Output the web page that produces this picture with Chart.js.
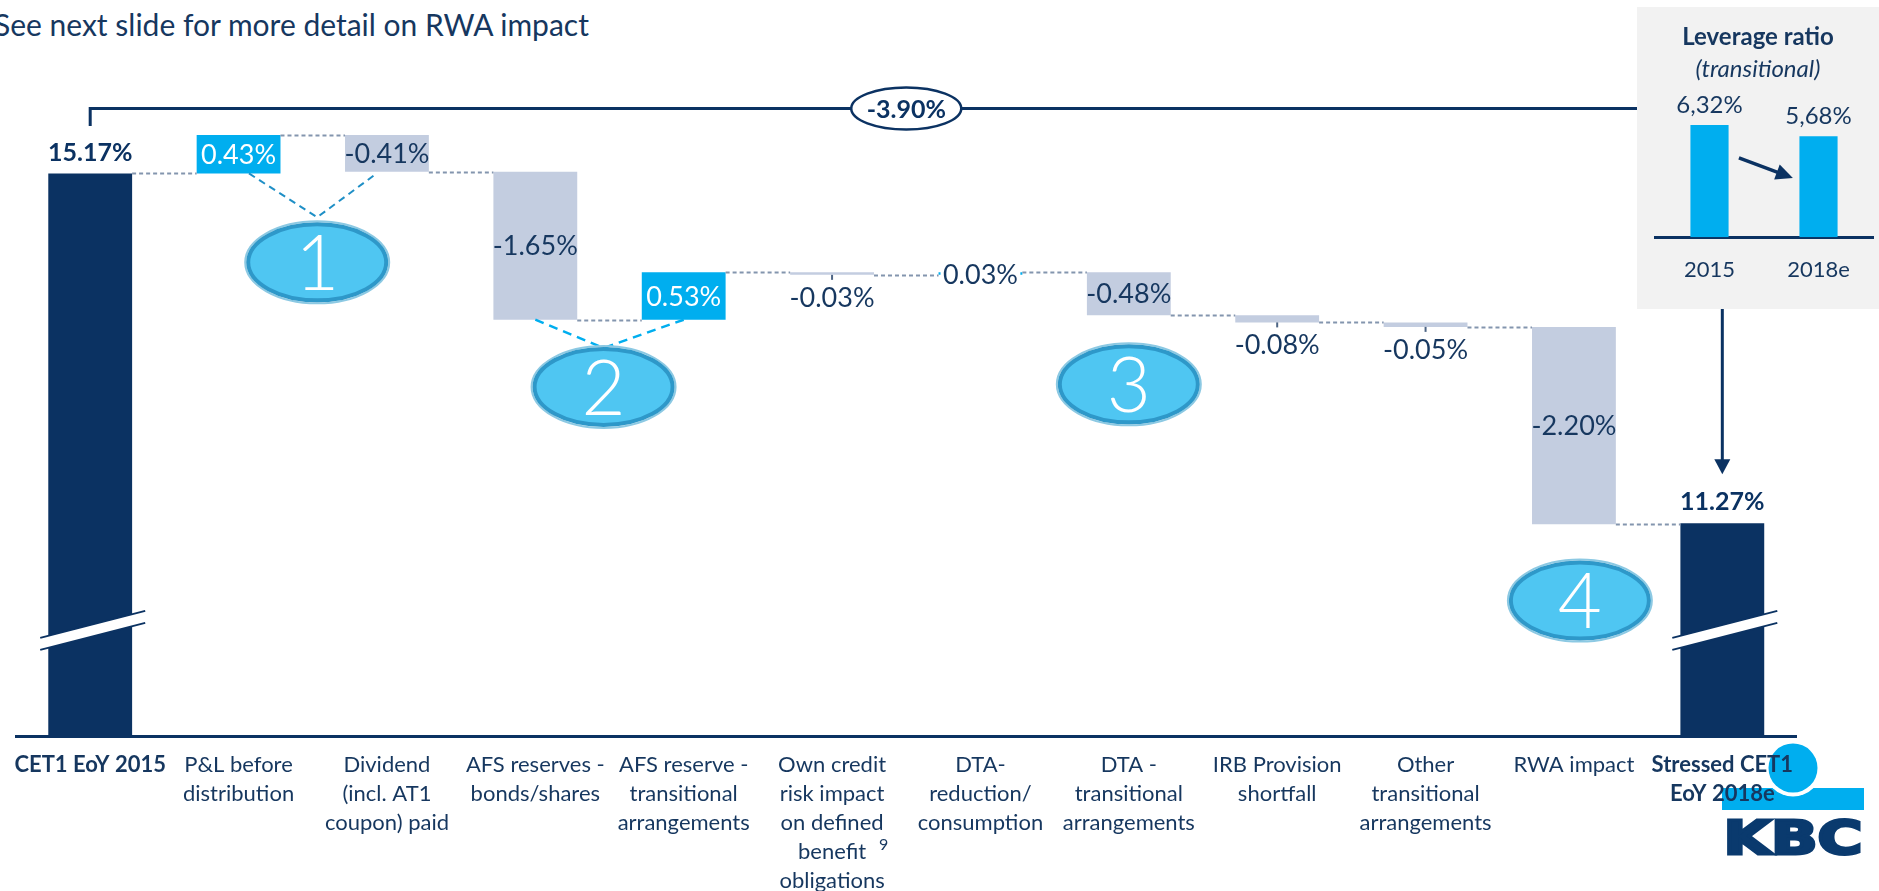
<!DOCTYPE html>
<html>
<head>
<meta charset="utf-8">
<title>CET1 waterfall 2015 - 2018e</title>
<script src="https://cdn.jsdelivr.net/npm/chart.js@4.4.1/dist/chart.umd.min.js"></script>
<style>
  html, body { margin: 0; padding: 0; background: #fff; overflow: hidden; }
  body { width: 1879px; height: 891px; position: relative; font-family: Lato, "Open Sans", sans-serif; color: #16375f; }
  #waterfall { position: absolute; left: 0; top: 0; }
  .note { position: absolute; left: -6px; top: 9px; font-size: 30px; line-height: 30px; white-space: nowrap; }
  .lev-box { position: absolute; left: 1637px; top: 7px; width: 242px; height: 302px; background: #f2f2f2; }
  #leverage { position: absolute; left: 1637px; top: 7px; }
  .lev-title { position: absolute; left: 1637px; width: 242px; text-align: center; font-size: 24px; line-height: 24px; white-space: nowrap; }
</style>
</head>
<body>
<div class="note">See next slide for more detail on RWA impact</div>
<canvas id="waterfall" width="1879" height="891"></canvas>
<div class="lev-box"></div>
<canvas id="leverage" width="242" height="302"></canvas>
<div class="lev-title" style="top:24px;font-weight:bold;">Leverage ratio</div>
<div class="lev-title" style="top:56px;font-style:italic;">(transitional)</div>
<script>
// colours
const NAVY = '#0b3262';
const TEXT = '#16375f';
const CYAN = '#00aeef';
const GREY = '#c3cde0';
const DASH_GREY = '#8395ae';

// waterfall data
const categories = [
  ['CET1 EoY 2015'],
  ['P&L before', 'distribution'],
  ['Dividend', '(incl. AT1', 'coupon) paid'],
  ['AFS reserves -', 'bonds/shares'],
  ['AFS reserve -', 'transitional', 'arrangements'],
  ['Own credit', 'risk impact', 'on defined', 'benefit', 'obligations'],
  ['DTA-', 'reduction/', 'consumption'],
  ['DTA -', 'transitional', 'arrangements'],
  ['IRB Provision', 'shortfall'],
  ['Other', 'transitional', 'arrangements'],
  ['RWA impact'],
  ['Stressed CET1', 'EoY 2018e']
];
const startValue = 15.17;
const deltas = [0.43, -0.41, -1.65, 0.53, -0.03, 0.03, -0.48, -0.08, -0.05, -2.20];
const endValue = 11.27;
const totalChange = -3.90;
const axisFloor = 8.9;   // broken axis: bars start here
const axisCeil = 16.0;

// leverage ratio inset
const leverageYears = ['2015', '2018e'];
const leverageValues = [6.32, 5.68];

// build floating bars for the waterfall
const ranges = [[axisFloor, startValue]];
const levels = [startValue];
let run = startValue;
deltas.forEach(d => {
  const next = +(run + d).toFixed(2);
  ranges.push([Math.min(run, next), Math.max(run, next)]);
  run = next;
  levels.push(run);
});
ranges.push([axisFloor, endValue]);
levels.push(endValue);

const lastIdx = categories.length - 1;
const barColors = ranges.map((r, i) => {
  if (i === 0 || i === lastIdx) return NAVY;
  return deltas[i - 1] > 0 ? CYAN : GREY;
});

function valueText(i) {
  if (i === 0) return startValue.toFixed(2) + '%';
  if (i === lastIdx) return endValue.toFixed(2) + '%';
  return deltas[i - 1].toFixed(2) + '%';
}

Chart.defaults.font.family = 'Lato, "Open Sans", sans-serif';

function barBox(chart, i) {
  const el = chart.getDatasetMeta(0).data[i];
  const p = el.getProps(['x', 'y', 'base', 'width'], true);
  return {
    x: p.x, left: p.x - p.width / 2, right: p.x + p.width / 2,
    top: Math.min(p.y, p.base), bottom: Math.max(p.y, p.base), width: p.width
  };
}

function drawEllipseMark(ctx, cx, cy, txt) {
  ctx.save();
  ctx.beginPath();
  ctx.ellipse(cx, cy, 72, 41, 0, 0, Math.PI * 2);
  ctx.strokeStyle = '#8cc9e3';
  ctx.lineWidth = 2;
  ctx.stroke();
  ctx.beginPath();
  ctx.ellipse(cx, cy, 69, 38, 0, 0, Math.PI * 2);
  ctx.fillStyle = '#4fc6f2';
  ctx.fill();
  ctx.strokeStyle = '#2e98c9';
  ctx.lineWidth = 4;
  ctx.stroke();
  ctx.fillStyle = '#fff';
  ctx.font = '300 76px Lato';
  ctx.textAlign = 'center';
  ctx.textBaseline = 'middle';
  ctx.fillText(txt, cx, cy + 3);
  ctx.restore();
}

function drawBreak(ctx, b, yc) {
  const slope = 27 / 105;
  const x1 = b.x - 50, x2 = b.x + 55;
  const yAt = (x, off) => yc - (x - b.x) * slope + off;
  ctx.save();
  ctx.beginPath();
  ctx.moveTo(x1, yAt(x1, -6));
  ctx.lineTo(x2, yAt(x2, -6));
  ctx.lineTo(x2, yAt(x2, 6));
  ctx.lineTo(x1, yAt(x1, 6));
  ctx.closePath();
  ctx.fillStyle = '#fff';
  ctx.fill();
  ctx.strokeStyle = NAVY;
  ctx.lineWidth = 2;
  [-6, 6].forEach(off => {
    ctx.beginPath();
    ctx.moveTo(x1, yAt(x1, off));
    ctx.lineTo(x2, yAt(x2, off));
    ctx.stroke();
  });
  ctx.restore();
}

const BOX_LEFT = 1637, BOX_BOTTOM = 309;

const waterfallDecor = {
  id: 'waterfallDecor',
  beforeDraw(chart) {
    // KBC logo, sits under the last category label
    const ctx = chart.ctx;
    ctx.save();
    ctx.fillStyle = CYAN;
    ctx.fillRect(1722, 788, 142, 22);
    ctx.beginPath();
    ctx.arc(1793, 768, 28.5, 0, Math.PI * 2);
    ctx.fillStyle = '#fff';
    ctx.fill();
    ctx.beginPath();
    ctx.arc(1793, 768, 24.5, 0, Math.PI * 2);
    ctx.fillStyle = CYAN;
    ctx.fill();
    ctx.font = 'bold 46px "DejaVu Sans"';
    const w = ctx.measureText('KBC').width;
    ctx.translate(1723.5, 854);
    ctx.scale(139 / w, 1);
    ctx.fillStyle = '#0a3a6e';
    ctx.strokeStyle = '#0a3a6e';
    ctx.lineWidth = 3;
    ctx.lineJoin = 'miter';
    ctx.textBaseline = 'alphabetic';
    ctx.fillText('KBC', 0, 0);
    ctx.strokeText('KBC', 0, 0);
    ctx.restore();
  },
  afterDatasetsDraw(chart) {
    const ctx = chart.ctx;
    const xs = chart.scales.x, ys = chart.scales.y;
    const boxes = ranges.map((r, i) => barBox(chart, i));

    // dashed connectors between bars
    ctx.save();
    ctx.strokeStyle = DASH_GREY;
    ctx.lineWidth = 2;
    ctx.setLineDash([4, 3]);
    for (let i = 0; i < boxes.length - 1; i++) {
      const y = Math.round(ys.getPixelForValue(levels[i])) + 0.5;
      ctx.beginPath();
      ctx.moveTo(boxes[i].right, y);
      ctx.lineTo(boxes[i + 1].left, y);
      ctx.stroke();
    }
    ctx.restore();

    // axis breaks on the two totals
    const yBreak = ys.getPixelForValue(10.07);
    drawBreak(ctx, boxes[0], yBreak);
    drawBreak(ctx, boxes[lastIdx], yBreak);

    // value labels
    ctx.save();
    ctx.textAlign = 'center';
    ctx.textBaseline = 'middle';
    boxes.forEach((b, i) => {
      const txt = valueText(i);
      if (i === 0 || i === lastIdx) {
        ctx.font = 'bold 25px Lato';
        ctx.fillStyle = NAVY;
        ctx.fillText(txt, b.x, b.top - 21);
        return;
      }
      const d = deltas[i - 1];
      ctx.font = '27px Lato';
      if (Math.abs(d) >= 0.3) {
        ctx.fillStyle = d > 0 ? '#fff' : TEXT;
        ctx.fillText(txt, b.x, (b.top + b.bottom) / 2 + 1);
      } else if (d < 0) {
        ctx.strokeStyle = '#4d6585';
        ctx.lineWidth = 2;
        ctx.beginPath();
        ctx.moveTo(b.x, b.bottom);
        ctx.lineTo(b.x, b.bottom + 5);
        ctx.stroke();
        ctx.fillStyle = TEXT;
        ctx.fillText(txt, b.x, b.bottom + 23);
      } else {
        const yc = (b.top + b.bottom) / 2;
        ctx.fillStyle = '#fff';
        ctx.fillRect(b.left + 2, yc - 14, b.width - 4, 30);
        ctx.fillStyle = TEXT;
        ctx.fillText(txt, b.x, yc + 2);
      }
    });
    ctx.restore();

    // numbered groups
    const marks = [
      { t: '1', at: 1.53, v: 14.18 },
      { t: '2', at: 3.46, v: 12.79 },
      { t: '3', at: 7.0, v: 12.82 },
      { t: '4', at: 10.04, v: 10.41 }
    ].map(m => ({ t: m.t, x: xs.getPixelForValue(m.at), y: ys.getPixelForValue(m.v) }));

    // dashed V guides to marks 1 and 2
    ctx.save();
    ctx.lineWidth = 2;
    ctx.strokeStyle = '#1f8fc6';
    ctx.setLineDash([7, 5]);
    let yb = ys.getPixelForValue(levels[0]);
    ctx.beginPath();
    ctx.moveTo(xs.getPixelForValue(1.07), yb);
    ctx.lineTo(marks[0].x, marks[0].y - 45);
    ctx.lineTo(xs.getPixelForValue(1.93), yb);
    ctx.stroke();
    ctx.strokeStyle = CYAN;
    ctx.lineWidth = 2.5;
    ctx.setLineDash([9, 6]);
    yb = ys.getPixelForValue(levels[3]);
    ctx.beginPath();
    ctx.moveTo(xs.getPixelForValue(3.0), yb);
    ctx.lineTo(marks[1].x, marks[1].y - 39);
    ctx.lineTo(xs.getPixelForValue(4.0), yb);
    ctx.stroke();
    ctx.restore();

    marks.forEach(m => drawEllipseMark(ctx, m.x, m.y, m.t));

    // total change bracket
    const xStart = xs.getPixelForValue(0);
    const yBr = ys.getPixelForValue(15.894);
    ctx.save();
    ctx.strokeStyle = NAVY;
    ctx.lineWidth = 3;
    ctx.beginPath();
    ctx.moveTo(xStart, ys.getPixelForValue(15.70));
    ctx.lineTo(xStart, yBr);
    ctx.lineTo(BOX_LEFT, yBr);
    ctx.stroke();
    const cx = xs.getPixelForValue(5.5);
    ctx.beginPath();
    ctx.ellipse(cx, yBr, 55, 21, 0, 0, Math.PI * 2);
    ctx.fillStyle = '#fff';
    ctx.fill();
    ctx.lineWidth = 2.5;
    ctx.stroke();
    ctx.font = 'bold 25px Lato';
    ctx.fillStyle = NAVY;
    ctx.textAlign = 'center';
    ctx.textBaseline = 'middle';
    ctx.fillText(totalChange.toFixed(2) + '%', cx, yBr + 1);

    // arrow from the leverage box down to the stressed total
    const xa = xs.getPixelForValue(lastIdx);
    const tip = boxes[lastIdx].top - 49;
    ctx.lineWidth = 3;
    ctx.beginPath();
    ctx.moveTo(xa, BOX_BOTTOM);
    ctx.lineTo(xa, tip - 12);
    ctx.stroke();
    ctx.beginPath();
    ctx.moveTo(xa, tip);
    ctx.lineTo(xa - 8, tip - 15);
    ctx.lineTo(xa + 8, tip - 15);
    ctx.closePath();
    ctx.fill();
    ctx.restore();
  },
  afterDraw(chart) {
    // footnote marker after "benefit"
    const ctx = chart.ctx;
    ctx.save();
    ctx.font = '16px Lato';
    ctx.fillStyle = TEXT;
    ctx.textAlign = 'left';
    ctx.textBaseline = 'middle';
    ctx.fillText('9', chart.scales.x.getPixelForValue(5) + 47, 845);
    ctx.restore();
  }
};

new Chart(document.getElementById('waterfall'), {
  type: 'bar',
  data: {
    labels: categories,
    datasets: [{
      data: ranges,
      backgroundColor: barColors,
      borderWidth: 0,
      barPercentage: 1,
      categoryPercentage: 0.565
    }]
  },
  options: {
    responsive: false,
    animation: false,
    devicePixelRatio: 1,
    layout: { padding: { left: 11, right: 82.5, top: 99, bottom: 0 } },
    plugins: { legend: { display: false }, tooltip: { enabled: false } },
    scales: {
      x: {
        grid: { display: false, drawTicks: false },
        border: { display: true, color: NAVY, width: 3 },
        ticks: {
          color: TEXT,
          padding: 14,
          autoSkip: false,
          maxRotation: 0,
          minRotation: 0,
          font: c => ({
            size: 22,
            lineHeight: 1.32,
            weight: (c.index === 0 || c.index === lastIdx) ? 'bold' : 'normal'
          })
        },
        afterFit: s => { s.height = 155; }
      },
      y: { display: false, min: axisFloor, max: axisCeil }
    }
  },
  plugins: [waterfallDecor]
});

const leverageDecor = {
  id: 'leverageDecor',
  afterDatasetsDraw(chart) {
    const ctx = chart.ctx;
    const xs = chart.scales.x, ys = chart.scales.y;
    const meta = chart.getDatasetMeta(0);
    ctx.save();
    ctx.font = '24px Lato';
    ctx.fillStyle = TEXT;
    ctx.textAlign = 'center';
    ctx.textBaseline = 'middle';
    meta.data.forEach((el, i) => {
      ctx.fillText(leverageValues[i].toFixed(2).replace('.', ',') + '%', el.x, el.y - 20);
    });
    // arrow between the two bars
    const x1 = xs.getPixelForValue(0.27), y1 = ys.getPixelForValue(4.46);
    const x2 = xs.getPixelForValue(0.765), y2 = ys.getPixelForValue(3.34);
    const ang = Math.atan2(y2 - y1, x2 - x1);
    ctx.strokeStyle = NAVY;
    ctx.fillStyle = NAVY;
    ctx.lineWidth = 3.5;
    ctx.beginPath();
    ctx.moveTo(x1, y1);
    ctx.lineTo(x2 - 14 * Math.cos(ang), y2 - 14 * Math.sin(ang));
    ctx.stroke();
    ctx.beginPath();
    ctx.moveTo(x2, y2);
    ctx.lineTo(x2 - 17 * Math.cos(ang) + 8 * Math.sin(ang), y2 - 17 * Math.sin(ang) - 8 * Math.cos(ang));
    ctx.lineTo(x2 - 17 * Math.cos(ang) - 8 * Math.sin(ang), y2 - 17 * Math.sin(ang) + 8 * Math.cos(ang));
    ctx.closePath();
    ctx.fill();
    ctx.restore();
  }
};

new Chart(document.getElementById('leverage'), {
  type: 'bar',
  data: {
    labels: leverageYears,
    datasets: [{
      data: leverageValues,
      backgroundColor: CYAN,
      borderWidth: 0,
      barPercentage: 0.35,
      categoryPercentage: 1
    }]
  },
  options: {
    responsive: false,
    animation: false,
    devicePixelRatio: 1,
    layout: { padding: { left: 18, right: 6, top: 88, bottom: 0 } },
    plugins: { legend: { display: false }, tooltip: { enabled: false } },
    scales: {
      x: {
        grid: { display: false, drawTicks: false },
        border: { display: true, color: NAVY, width: 3 },
        ticks: { color: TEXT, padding: 19, font: { size: 22 } },
        afterFit: s => { s.height = 71.7; }
      },
      y: { display: false, min: 0, max: 8 }
    }
  },
  plugins: [leverageDecor]
});
</script>
</body>
</html>
